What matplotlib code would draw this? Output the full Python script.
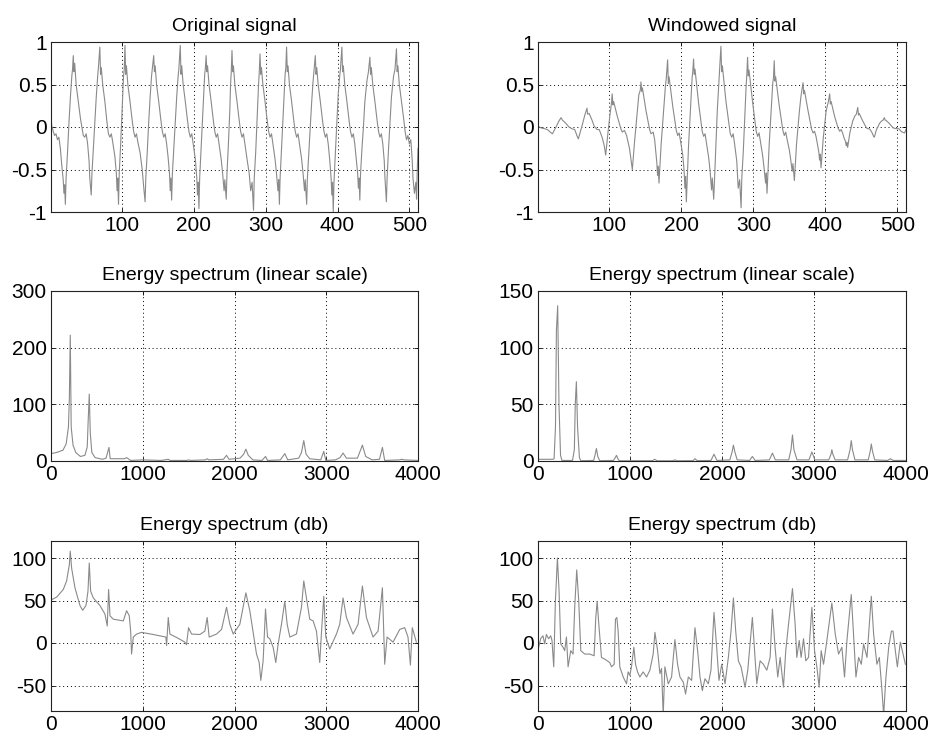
import numpy as np
import matplotlib
matplotlib.use("Agg")
import matplotlib.pyplot as plt

plt.rcParams['font.family'] = ['Liberation Sans', 'DejaVu Sans']
plt.rcParams['axes.unicode_minus'] = False

# --- time signal (sample index, amplitude) ---
orig_n = [1, 2, 4, 6, 8, 10, 12, 14, 16, 18, 19, 20, 21,
          22, 24, 26, 28, 30, 31, 32, 33, 34, 36, 39, 42, 44, 46, 48, 50, 52, 54, 55, 57,
          58, 60, 62, 64, 66, 67, 69, 70, 71, 73, 76, 79, 81, 83, 85, 87, 90, 92, 93, 94, 95,
          96, 98, 100, 102, 103, 104, 105, 106, 108, 111, 114, 116, 118, 120, 122, 125, 128, 130, 132,
          133, 135, 137, 139, 141, 142, 144, 145, 146, 148, 151, 154, 156, 158, 160, 162, 164, 166, 167, 168, 169,
          170, 172, 174, 176, 178, 179, 181, 182, 183, 185, 188, 191, 193, 195, 197, 199, 202, 204, 205, 206, 207,
          208, 210, 212, 214, 215, 216, 217, 218, 219, 221, 224, 227, 229, 231, 233, 235, 238, 240, 242, 243, 245,
          246, 248, 250, 251, 252, 253, 254, 255, 257, 260, 263, 265, 267, 269, 271, 274, 277, 279, 281, 283,
          284, 286, 288, 290, 291, 292, 293, 294, 296, 299, 302, 304, 306, 308, 310, 313, 315, 317, 318, 319,
          320, 322, 324, 326, 327, 328, 329, 330, 331, 333, 336, 339, 341, 343, 345, 347, 350, 352, 354, 355, 357,
          358, 360, 362, 364, 366, 367, 369, 370, 371, 373, 376, 379, 381, 383, 385, 387, 389, 391, 392, 393, 394,
          395, 397, 399, 401, 403, 404, 406, 407, 408, 410, 413, 416, 418, 420, 422, 424, 426, 428, 429, 430, 431,
          432, 434, 436, 438, 441, 443, 445, 446, 447, 449, 452, 455, 457, 459, 461, 463, 465, 466, 467, 468,
          469, 471, 473, 475, 478, 480, 482, 483, 484, 486, 489, 492, 494, 496, 498, 500, 502, 504, 505, 507, 509, 510, 511, 512]
orig_v = [0.12, 0.02, -0.05, -0.1, -0.08, -0.15, -0.12, -0.25, -0.45, -0.62, -0.78, -0.68, -0.91,
          -0.6, -0.3, 0.05, 0.35, 0.6, 0.68, 0.84, 0.65, 0.75, 0.5, 0.3, 0.1, 0.0, -0.1, -0.12, -0.08, -0.2, -0.4, -0.6, -0.8,
          -0.55, -0.25, 0.05, 0.35, 0.6, 0.7, 0.94, 0.62, 0.7, 0.5, 0.3, 0.05, -0.08, -0.12, -0.08, -0.18, -0.35, -0.55, -0.75, -0.6, -0.91,
          -0.55, -0.2, 0.2, 0.6, 0.68, 0.96, 0.62, 0.72, 0.5, 0.3, 0.08, -0.05, -0.12, -0.08, -0.18, -0.3, -0.5, -0.7, -0.88,
          -0.6, -0.3, 0.05, 0.35, 0.6, 0.68, 0.84, 0.65, 0.72, 0.5, 0.3, 0.08, -0.05, -0.12, -0.08, -0.2, -0.35, -0.55, -0.75, -0.6, -0.86,
          -0.55, -0.25, 0.05, 0.35, 0.6, 0.68, 0.96, 0.62, 0.72, 0.5, 0.3, 0.08, -0.05, -0.12, -0.08, -0.2, -0.38, -0.6, -0.8, -0.65, -0.96,
          -0.6, -0.25, 0.1, 0.45, 0.62, 0.7, 0.84, 0.65, 0.72, 0.5, 0.3, 0.08, -0.05, -0.12, -0.08, -0.2, -0.38, -0.55, -0.75, -0.62, -0.85,
          -0.55, -0.2, 0.2, 0.5, 0.65, 0.9, 0.65, 0.72, 0.5, 0.3, 0.08, -0.05, -0.12, -0.08, -0.2, -0.38, -0.55, -0.75, -0.65, -0.98,
          -0.6, -0.3, 0.1, 0.5, 0.65, 0.86, 0.62, 0.7, 0.5, 0.3, 0.08, -0.05, -0.12, -0.08, -0.2, -0.38, -0.55, -0.75, -0.62, -0.91,
          -0.6, -0.25, 0.1, 0.45, 0.62, 0.7, 0.94, 0.65, 0.72, 0.5, 0.3, 0.08, -0.05, -0.12, -0.08, -0.2, -0.38, -0.55, -0.75, -0.62, -0.91,
          -0.6, -0.3, 0.0, 0.3, 0.55, 0.65, 0.84, 0.62, 0.7, 0.5, 0.3, 0.08, -0.05, -0.12, -0.08, -0.2, -0.38, -0.6, -0.8, -0.65, -1.0,
          -0.65, -0.3, 0.05, 0.4, 0.6, 0.68, 0.94, 0.65, 0.72, 0.5, 0.3, 0.08, -0.05, -0.12, -0.08, -0.2, -0.38, -0.55, -0.72, -0.6, -0.86,
          -0.55, -0.25, 0.0, 0.3, 0.55, 0.65, 0.82, 0.62, 0.7, 0.5, 0.3, 0.08, -0.05, -0.12, -0.08, -0.2, -0.4, -0.6, -0.75, -0.88,
          -0.6, -0.25, 0.05, 0.35, 0.6, 0.68, 0.92, 0.65, 0.72, 0.5, 0.3, 0.1, -0.05, -0.15, -0.1, -0.2, -0.15, -0.4, -0.6, -0.78, -0.65, -0.85, -0.5, -0.25]

win_n = [1, 5, 10, 14, 18, 21,
         26, 30, 33, 35, 39, 44, 48, 52, 55, 57,
         62, 66, 69, 70, 72, 76, 79, 83, 86, 90, 93, 95,
         98, 101, 103, 104, 105, 106, 111, 116, 118, 121, 124, 128, 130, 132,
         135, 138, 141, 143, 144, 145, 146, 151, 156, 158, 161, 163, 166, 167, 168, 169,
         172, 175, 178, 179, 181, 182, 183, 188, 193, 195, 197, 199, 202, 204, 205, 206, 207,
         210, 212, 214, 215, 216, 217, 218, 219, 224, 229, 231, 233, 235, 238, 240, 242, 243, 245,
         248, 250, 252, 253, 255, 256, 257, 262, 266, 268, 270, 272, 274, 277, 279, 281, 283,
         284, 286, 288, 290, 291, 292, 293, 294, 299, 304, 306, 308, 310, 313, 315, 317, 318, 319,
         322, 324, 326, 327, 328, 329, 330, 331, 336, 341, 343, 345, 347, 350, 352, 354, 355, 357,
         360, 362, 364, 366, 367, 369, 370, 371, 376, 381, 383, 385, 387, 389, 391, 392, 393, 394,
         397, 399, 401, 403, 404, 406, 407, 408, 413, 418, 420, 422, 424, 426, 428, 429, 430, 431,
         434, 436, 438, 441, 443, 445, 446, 447, 452, 457, 459, 461, 463, 465, 466, 467, 468,
         471, 473, 475, 478, 480, 482, 483, 484, 489, 494, 498, 502, 505, 507, 510, 512]
win_v = [0.01, -0.01, -0.02, -0.03, -0.06, -0.08,
         0.0, 0.07, 0.11, 0.08, 0.05, 0.0, -0.02, -0.03, -0.1, -0.14,
         0.01, 0.14, 0.22, 0.15, 0.16, 0.08, 0.01, -0.03, -0.03, -0.12, -0.22, -0.33,
         -0.08, 0.15, 0.28, 0.39, 0.26, 0.3, 0.13, -0.02, -0.06, -0.04, -0.1, -0.25, -0.38, -0.5,
         -0.18, 0.1, 0.38, 0.43, 0.53, 0.42, 0.46, 0.19, -0.03, -0.08, -0.06, -0.15, -0.42, -0.57, -0.46, -0.66,
         -0.2, 0.15, 0.49, 0.56, 0.79, 0.51, 0.59, 0.25, -0.04, -0.1, -0.07, -0.17, -0.33, -0.53, -0.72, -0.58, -0.88,
         -0.23, 0.09, 0.43, 0.58, 0.66, 0.8, 0.62, 0.68, 0.28, -0.05, -0.11, -0.08, -0.19, -0.36, -0.52, -0.74, -0.6, -0.85,
         -0.2, 0.2, 0.5, 0.65, 0.95, 0.65, 0.72, 0.3, 0.05, -0.08, -0.12, -0.08, -0.2, -0.4, -0.72, -0.62, -0.95,
         -0.6, -0.3, 0.1, 0.48, 0.62, 0.82, 0.6, 0.67, 0.29, -0.05, -0.11, -0.07, -0.18, -0.34, -0.49, -0.66, -0.54, -0.78,
         -0.21, 0.08, 0.38, 0.52, 0.58, 0.78, 0.54, 0.59, 0.25, -0.04, -0.1, -0.06, -0.15, -0.27, -0.39, -0.52, -0.43, -0.63,
         -0.2, 0.0, 0.19, 0.35, 0.41, 0.52, 0.39, 0.43, 0.19, -0.03, -0.07, -0.05, -0.11, -0.2, -0.3, -0.39, -0.32, -0.48,
         -0.14, 0.02, 0.18, 0.26, 0.29, 0.39, 0.27, 0.3, 0.12, -0.02, -0.05, -0.03, -0.07, -0.13, -0.17, -0.22, -0.18, -0.24,
         -0.07, 0.0, 0.07, 0.13, 0.15, 0.23, 0.14, 0.16, 0.07, -0.01, -0.02, -0.02, -0.04, -0.07, -0.09, -0.11, -0.12,
         -0.03, 0.0, 0.04, 0.07, 0.08, 0.11, 0.08, 0.08, 0.04, -0.01, -0.02, -0.02, -0.05, -0.06, -0.07, -0.03]

# --- spectra (Hz, value) ---
lin_f = [0, 60, 130, 165, 190, 200, 210, 220, 240, 270, 320, 370, 395, 405, 417, 428, 445, 480, 560, 600,
         632, 645, 800, 824, 850, 870, 1000, 1200, 1278, 1300, 1480, 1499, 1520, 1680, 1702, 1720, 1880, 1913, 1940, 2060,
         2100, 2124, 2150, 2200, 2300, 2338, 2360, 2500, 2548, 2580, 2700, 2730, 2755, 2780, 2820, 2940, 2973, 2995, 3100, 3150,
         3183, 3220, 3340, 3394, 3430, 3500, 3580, 3612, 3637, 3800, 3819, 3850, 4000]
lin_e = [13, 15, 19, 30, 60, 110, 222, 60, 28, 15, 8, 10, 25, 70, 118, 50, 15, 6, 3, 5,
         24, 4, 4, 6, 3, 1, 2, 1, 3, 1, 1, 2, 1, 2, 4, 2, 3, 10, 3, 5,
         12, 21, 10, 2, 1, 8, 1, 2, 13, 2, 5, 15, 36, 12, 4, 2, 17, 1, 2, 6,
         14, 5, 5, 28, 8, 2, 3, 24, 1, 2, 3, 2, 1]

wlin_f = [0, 160, 175, 190, 200, 214, 228, 245, 260, 375, 395, 405, 417, 430, 450, 465, 605, 622, 635, 650,
          670, 820, 840, 853, 868, 885, 1245, 1270, 1295, 1465, 1488, 1510, 1685, 1706, 1730, 1880, 1913, 1945, 2085, 2110,
          2124, 2140, 2165, 2300, 2330, 2360, 2515, 2548, 2580, 2725, 2750, 2766, 2782, 2815, 2945, 2977, 3010, 3160, 3185, 3194,
          3205, 3230, 3365, 3392, 3405, 3418, 3445, 3590, 3612, 3623, 3635, 3660, 3800, 3830, 3860, 4000]
wlin_e = [1.5, 1.5, 2, 30, 115, 137, 50, 5, 0.5, 0.5, 10, 50, 70, 30, 3, 0.3, 0.5, 6, 11, 4,
          0.3, 0.5, 3, 5, 2, 0.2, 0.3, 1.5, 0.2, 0.2, 1, 0.2, 0.3, 2, 0.3, 0.5, 6, 0.5, 1, 8,
          14, 8, 1, 0.5, 4, 0.5, 1, 7, 1, 1, 10, 23, 10, 1, 1, 8, 1, 1, 6, 10,
          6, 1, 1, 10, 18, 10, 1, 1, 9, 15, 9, 1, 0.5, 2, 0.5, 0.5]

db_f = [0, 62, 134, 170, 200, 210, 225, 261, 316, 345, 381, 403, 417, 432, 461, 534, 588, 613, 628, 643,
        679, 788, 824, 853, 868, 878, 897, 933, 987, 1114, 1252, 1260, 1278, 1296, 1368, 1459, 1477, 1499, 1532, 1623,
        1677, 1702, 1724, 1804, 1859, 1913, 1949, 1986, 2058, 2124, 2167, 2211, 2240, 2269, 2287, 2312, 2338, 2360, 2385, 2421,
        2450, 2476, 2512, 2548, 2574, 2603, 2675, 2730, 2755, 2784, 2820, 2857, 2893, 2929, 2947, 2973, 2995, 3038, 3111, 3147,
        3183, 3220, 3292, 3347, 3394, 3438, 3510, 3565, 3612, 3637, 3663, 3728, 3801, 3855, 3891, 3917, 3938, 3982]
db_v = [50.6, 54, 63, 73, 92, 108, 88, 65, 44, 38.5, 44, 61, 94, 61, 53, 44, 34, 20, 63, 32,
        28, 26, 38, 32, 14, -13, 7, 10.5, 12.5, 10, 7, -3, 30, 10.5, 6.6, 1, -2, 18, 10.5, 10,
        14, 30, 7, 10.5, 16, 42, 22, 10.5, 22, 59, 38, 7, -13, -23, -44, -21, 40, 7, 5, -5,
        -23, -1, 22, 49, 22, 7, 10.5, 42, 73, 53, 28, 26, 14, -23, 10.5, 55, 7, -7, 10.5, 22,
        53, 30, 10.5, 22, 67, 30, 7, 14, 65, -25, 7, 1, 16, 18, 7, -26, 18, 1]

wdb_f = [7, 29, 54, 73, 91, 116, 138, 152, 171, 189, 211, 229, 247, 272, 290, 309, 327, 356, 381, 399,
         421, 443, 465, 508, 563, 610, 628, 643, 661, 690, 726, 780, 799, 828, 842, 857, 871, 889, 926, 962,
         980, 998, 1016, 1042, 1060, 1082, 1107, 1143, 1180, 1216, 1252, 1271, 1300, 1325, 1343, 1361, 1379, 1416, 1452, 1488,
         1517, 1543, 1579, 1604, 1634, 1670, 1706, 1735, 1761, 1786, 1815, 1851, 1880, 1913, 1942, 1967, 1997, 2033, 2069, 2098,
         2124, 2149, 2178, 2207, 2251, 2280, 2330, 2352, 2378, 2414, 2450, 2487, 2523, 2548, 2577, 2606, 2632, 2668, 2693, 2723,
         2766, 2795, 2813, 2839, 2860, 2886, 2911, 2940, 2977, 3006, 3031, 3056, 3078, 3104, 3140, 3194, 3231, 3267, 3303, 3332,
         3358, 3405, 3430, 3456, 3485, 3514, 3539, 3576, 3623, 3648, 3684, 3710, 3739, 3757, 3782, 3812, 3841, 3859, 3884, 3906,
         3938, 3960, 3993]
wdb_v = [-5, 5, 8.5, -1, 10, 5, 8.5, 3, -28, 49, 100, 61, -1, -5, -9, 7, -28, -9, -13, 42,
         86, 49, -9, -13, -13, -15, 30, 49, 22, -17, -19, -23, -28, -25, 28, 30, 14, -28, -40, -48,
         -34, -38, -28, -5, -25, -34, -40, -34, -40, -32, -13, 12.5, -9, -36, -30, -85, -28, -48, -40, 4,
         -25, -40, -46, -60, -40, -44, 18, -9, -40, -56, -42, -48, -32, 36, -5, -44, -25, -48, -17, 14,
         53, 14, -21, -28, -52, -32, 30, -5, -48, -21, -25, -32, -17, 40, -5, -40, -17, -52, -9, 22,
         64, 22, -17, 3, -17, 5, -21, -17, 42, -9, -28, -52, -9, -25, 3, 47, 10.5, -13, -5, -40,
         3, 57, 10.5, -40, -17, -25, -1, -17, 55, 10.5, -25, -17, -56, -85, -40, -5, 14, 14, -9, -28,
         1, -9, -25]

LINE_COLOR = '#8a8a8a'
TITLE_SIZE = 14
TICK_SIZE = 15


def style_axes(ax, title, xlim, ylim, xticks, yticks, yticklabels=None):
    ax.set_title(title, fontsize=TITLE_SIZE, pad=8)
    ax.set_xlim(*xlim)
    ax.set_ylim(*ylim)
    ax.set_xticks(xticks)
    ax.set_yticks(yticks)
    if yticklabels is not None:
        ax.set_yticklabels(yticklabels)
    ax.tick_params(direction='in', length=3, width=0.6, labelsize=TICK_SIZE, pad=3,
                   top=True, right=True)
    ax.grid(True, color='black', linestyle=(0, (1, 3)), linewidth=0.7)
    for sp in ax.spines.values():
        sp.set_linewidth(0.8)
        sp.set_color('#222222')


fig = plt.figure(figsize=(9.3, 7.38), dpi=100)
W, H = 930.0, 738.0
col_left = [51, 538]
col_width = [367, 368]
row_top = [42, 291, 541]
row_height = 170

axes = []
for r in range(3):
    for c in range(2):
        ax = fig.add_axes([col_left[c] / W, 1 - (row_top[r] + row_height) / H,
                           col_width[c] / W, row_height / H])
        axes.append(ax)

sig_ticks = [-1, -0.5, 0, 0.5, 1]
sig_labels = ['-1', '-0.5', '0', '0.5', '1']
f_ticks = [0, 1000, 2000, 3000, 4000]

# time signals
axes[0].plot(orig_n, orig_v, color=LINE_COLOR, linewidth=0.8)
style_axes(axes[0], 'Original signal', (1, 512), (-1, 1), [100, 200, 300, 400, 500], sig_ticks, sig_labels)
axes[1].plot(win_n, win_v, color=LINE_COLOR, linewidth=0.8)
style_axes(axes[1], 'Windowed signal', (1, 512), (-1, 1), [100, 200, 300, 400, 500], sig_ticks, sig_labels)

# linear spectra
axes[2].plot(lin_f, lin_e, color=LINE_COLOR, linewidth=0.8)
style_axes(axes[2], 'Energy spectrum (linear scale)', (0, 4000), (0, 300), f_ticks, [0, 100, 200, 300])
axes[3].plot(wlin_f, wlin_e, color=LINE_COLOR, linewidth=0.8)
style_axes(axes[3], 'Energy spectrum (linear scale)', (0, 4000), (0, 150), f_ticks, [0, 50, 100, 150])

# db spectra
axes[4].plot(db_f, db_v, color=LINE_COLOR, linewidth=0.8)
style_axes(axes[4], 'Energy spectrum (db)', (0, 4000), (-80, 120), f_ticks, [-50, 0, 50, 100])
axes[5].plot(wdb_f, wdb_v, color=LINE_COLOR, linewidth=0.8)
style_axes(axes[5], 'Energy spectrum (db)', (0, 4000), (-80, 120), f_ticks, [-50, 0, 50, 100])

fig.savefig('out.png', dpi=100)
